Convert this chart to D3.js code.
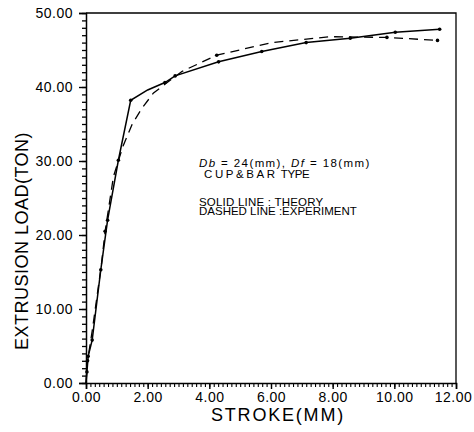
<!DOCTYPE html>
<html>
<head>
<meta charset="utf-8">
<script src="https://cdn.jsdelivr.net/npm/d3@7"></script>
<style>
  body { margin: 0; background: #fff; }
  svg { display: block; }
  text { font-family: "Liberation Sans", Arial, sans-serif; fill: #000; }
</style>
</head>
<body>
<svg id="chart" width="474" height="432"></svg>
<script>
// ---- data ----
const xTicks = [0, 2, 4, 6, 8, 10, 12];
const yTicks = [0, 10, 20, 30, 40, 50];
const theoryStroke = [0, 0.03, 0.07, 0.2, 0.48, 0.7, 1.05, 1.45, 2.0, 2.56, 2.89, 4.3, 5.7, 7.14, 8.57, 10.03, 11.47];
const theoryLoad   = [0, 1.5, 3.6, 5.8, 15.3, 22.0, 30.1, 38.2, 39.6, 40.6, 41.5, 43.4, 44.8, 46.0, 46.6, 47.4, 47.8];
const theoryMarked = [0, 1, 1, 1, 1, 1, 1, 1, 0, 1, 1, 1, 1, 1, 1, 1, 1];
const expStroke = [0, 0.05, 0.2, 0.5, 0.62, 0.89, 1.2, 1.5, 1.81, 2.19, 3.11, 4.24, 6.03, 7.92, 9.76, 11.4];
const expLoad   = [0, 3.0, 7.0, 16.0, 20.5, 27.9, 32.0, 35.0, 37.1, 39.2, 42.1, 44.3, 46.0, 46.8, 46.7, 46.3];
const expMarked = [0, 1, 0, 0, 1, 0, 0, 0, 0, 0, 0, 1, 0, 0, 1, 1];
const xTitle = "STROKE(MM)";
const yTitle = "EXTRUSION LOAD(TON)";
const noteLine1 = [["Db", true], [" = 24(mm), ", false], ["Df", true], [" = 18(mm)", false]];
const noteLine2 = "C U P & B A R  TYPE";
const noteLine3 = "SOLID LINE : THEORY";
const noteLine4 = "DASHED LINE :EXPERIMENT";

// ---- layout ----
const svg = d3.select("#chart");
const mLeft = 86, mRight = 456, mTop = 13, mBottom = 383;
const x = d3.scaleLinear().domain([0, 12]).range([mLeft, mRight]);
const y = d3.scaleLinear().domain([0, 50]).range([mBottom, mTop]);
const nb = s => s.replace(/ /g, "\u00A0");

// frame (top and right)
svg.append("path")
  .attr("d", `M${mLeft},${mTop}H${mRight}V${mBottom}`)
  .attr("fill", "none").attr("stroke", "#000").attr("stroke-width", 1.3);

// minor ticks
const yMinor = d3.range(0, 50.001, 1);
const xMinor = d3.range(0, 12.001, 2 / 14);
svg.append("g").attr("transform", `translate(${mLeft},0)`)
  .call(d3.axisLeft(y).tickValues(yMinor).tickSize(4).tickFormat(""))
  .call(g => g.select(".domain").remove())
  .selectAll("line").attr("stroke-width", 1.3);
svg.append("g").attr("transform", `translate(0,${mBottom})`)
  .call(d3.axisBottom(x).tickValues(xMinor).tickSize(4).tickFormat(""))
  .call(g => g.select(".domain").remove())
  .selectAll("line").attr("stroke-width", 1.1);

// major axes
const yAxis = svg.append("g").attr("transform", `translate(${mLeft},0)`)
  .call(d3.axisLeft(y).tickValues(yTicks).tickSize(7).tickPadding(6).tickFormat(d3.format(".2f")));
const xAxis = svg.append("g").attr("transform", `translate(0,${mBottom})`)
  .call(d3.axisBottom(x).tickValues(xTicks).tickSize(6).tickPadding(3).tickFormat(d3.format(".2f")));
[yAxis, xAxis].forEach(g => {
  g.select(".domain").attr("stroke-width", 1.5);
  g.selectAll("line").attr("stroke-width", 1.4);
  g.selectAll("text").attr("font-size", 14).attr("letter-spacing", 0.5)
    .attr("font-family", "'Liberation Sans', Arial, sans-serif");
});
xAxis.selectAll(".tick text").attr("dx", (d, i, n) => i === n.length - 1 ? -3 : 0);

// axis titles
svg.append("text")
  .attr("x", (mLeft + mRight) / 2 + 7).attr("y", 421)
  .attr("text-anchor", "middle").attr("font-size", 18).attr("letter-spacing", 1.8)
  .text(xTitle);
svg.append("text")
  .attr("transform", `translate(28,241) rotate(-90)`)
  .attr("text-anchor", "middle").attr("font-size", 18).attr("letter-spacing", 0.5)
  .text(yTitle);

// curves
const line = d3.line().x(d => x(d[0])).y(d => y(d[1]));
const theory = theoryStroke.map((s, i) => [s, theoryLoad[i], theoryMarked[i]]);
const exper = expStroke.map((s, i) => [s, expLoad[i], expMarked[i]]);

svg.append("path").datum(exper)
  .attr("d", line).attr("fill", "none").attr("stroke", "#000")
  .attr("stroke-width", 1.3).attr("stroke-dasharray", "9,6");
svg.append("path").datum(theory)
  .attr("d", line).attr("fill", "none").attr("stroke", "#000")
  .attr("stroke-width", 1.5);

svg.append("g").selectAll("circle")
  .data(theory.filter(d => d[2]).concat(exper.filter(d => d[2])))
  .join("circle")
  .attr("cx", d => x(d[0])).attr("cy", d => y(d[1])).attr("r", 1.8).attr("fill", "#000");

// annotation
const note = svg.append("g").attr("font-size", 11.5);
const t1 = note.append("text").attr("x", 199).attr("y", 167).attr("letter-spacing", 1.4);
noteLine1.forEach(([s, it]) => t1.append("tspan").attr("font-style", it ? "italic" : "normal").text(nb(s)));
note.append("text").attr("x", 204).attr("y", 177.5).attr("letter-spacing", -0.3)
  .text(nb(noteLine2));
note.append("text").attr("x", 199).attr("y", 206).attr("letter-spacing", 0.2)
  .text(nb(noteLine3));
note.append("text").attr("x", 199).attr("y", 215).attr("letter-spacing", 0)
  .text(nb(noteLine4));
</script>
</body>
</html>
